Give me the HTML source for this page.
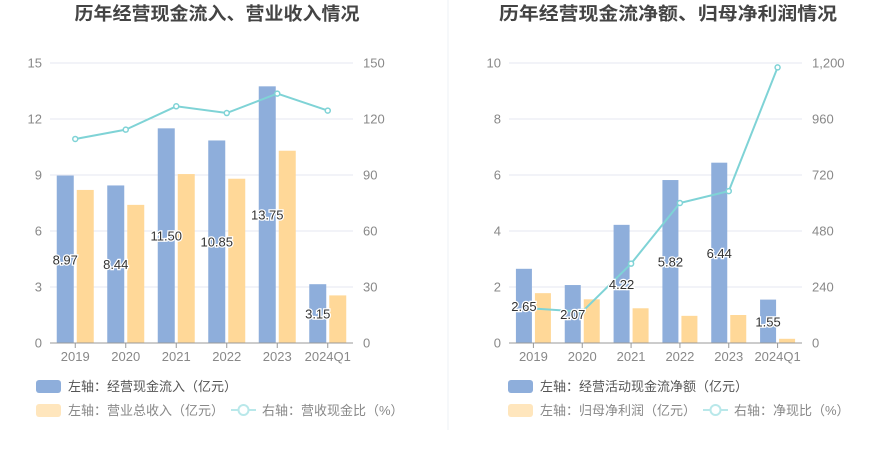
<!DOCTYPE html>
<html><head><meta charset="utf-8"><style>
html,body{margin:0;padding:0;background:#fff;}
svg{display:block;font-family:"Liberation Sans","Noto Sans CJK SC",sans-serif;}
</style></head><body>
<svg id="c" width="893" height="458" viewBox="0 0 893 458">
<line x1="448" y1="0" x2="448" y2="430" stroke="#eef0f4" stroke-width="1"/>
</svg>
<script>
const cats=["2019","2020","2021","2022","2023","2024Q1"];
const leftBlue=[8.97,8.44,11.50,10.85,13.75,3.15];
const leftOrange=[8.2,7.4,9.05,8.8,10.3,2.55];
const leftLine=[109.3,114.3,126.8,123.2,133.6,124.5];
const leftTicksL=[0,3,6,9,12,15];
const leftTicksR=["0","30","60","90","120","150"];
const rightBlue=[2.65,2.07,4.22,5.82,6.44,1.55];
const rightOrange=[1.78,1.56,1.24,0.97,1.0,0.15];
const rightLine=[148,134,340,600,651,1181];
const rightTicksL=[0,2,4,6,8,10];
const rightTicksR=["0","240","480","720","960","1,200"];
const svg=document.getElementById('c');
const NS="http://www.w3.org/2000/svg";
function mk(tag,attrs,parent){const e=document.createElementNS(NS,tag);for(const k in attrs)e.setAttribute(k,attrs[k]);(parent||svg).appendChild(e);return e;}
function chart(o){
  const g=mk('g',{});
  
  
  const y0=343,top=63,x0=o.x0,x1=o.x1;
  const cw=(x1-x0)/cats.length;
  const yL=v=>y0-(v/o.maxL)*(y0-top);
  const yR=v=>y0-(v/o.maxR)*(y0-top);
  const cx=i=>x0+cw*(i+0.5);
  const t=mk('text',{x:o.tx,y:20,'font-size':18,'font-weight':'bold',fill:'#444','text-anchor':'middle',textLength:o.tl,lengthAdjust:'spacingAndGlyphs'},g);
  t.textContent=o.title;
  
  
  o.ticksL.forEach((v,i)=>{
    const y=yL(v);
    if(v>0){const l=mk('line',{x1:x0,x2:x1,y1:y,y2:y,stroke:'#e4e7f0'},g);
      
      }
    const a=mk('text',{x:x0-8,y:y+4.5,'font-size':13,fill:'#888','text-anchor':'end'},g);a.textContent=v;
    
    
    const b=mk('text',{x:x1+10,y:y+4.5,'font-size':13,fill:'#888'},g);b.textContent=o.ticksR[i];
    
    
  });
  cats.forEach((c,i)=>{
    const bw=o.bw;
    const bx=cx(i)-bw-1.5, ox=cx(i)+1.5;
    const b=mk('rect',{x:bx,y:yL(o.blue[i]),width:bw,height:y0-yL(o.blue[i]),fill:'#8eaedb'},g);
    
    
    const r=mk('rect',{x:ox,y:yL(o.orange[i]),width:bw,height:y0-yL(o.orange[i]),fill:'#ffd898'},g);
    
    
    const tk=mk('line',{x1:cx(i),x2:cx(i),y1:y0,y2:y0+5,stroke:'#999'},g);
    
    
    const xl=mk('text',{x:cx(i),y:y0+18,'font-size':13,fill:'#888','text-anchor':'middle'},g);xl.textContent=c;
    
    
  });
  const ax=mk('line',{x1:x0,x2:x1,y1:y0,y2:y0,stroke:'#999'},g);
  
  
  const pts=o.line.map((v,i)=>cx(i)+','+yR(v)).join(' ');
  const pl=mk('polyline',{points:pts,fill:'none',stroke:'#7fd3d6','stroke-width':2},g);
  
  
  o.line.forEach((v,i)=>{
    const p=mk('circle',{cx:cx(i),cy:yR(v),r:2.5,fill:'#fff',stroke:'#7fd3d6','stroke-width':1.5},g);
    
    
  });
  cats.forEach((c,i)=>{
    const bx=cx(i)-o.bw/2-1.5;
    const y=(yL(o.blue[i])+y0)/2+5;
    const l=mk('text',{x:bx,y:y,'font-size':13,fill:'#333','text-anchor':'middle',stroke:'#fff','stroke-width':2.5,'paint-order':'stroke'},g);
    l.textContent=o.blue[i].toFixed(2);
    
    
  });
  const lx=o.lx;
  const r1=mk('rect',{x:lx,y:380,width:25,height:13,rx:3,fill:'#8eaedb'},g);
  
  
  const t1=mk('text',{x:lx+32,y:391,'font-size':13,fill:'#555'},g);t1.textContent=o.leg1;
  
  
  const r2=mk('rect',{x:lx,y:404,width:25,height:13,rx:3,fill:'#ffe6bd'},g);
  
  
  const t2=mk('text',{x:lx+32,y:415,'font-size':13,fill:'#888'},g);t2.textContent=o.leg2;
  
  
  const ll=mk('line',{x1:o.lx2,x2:o.lx2+25,y1:410,y2:410,stroke:'#b9e8ea','stroke-width':2},g);
  
  
  const lc=mk('circle',{cx:o.lx2+12.5,cy:410,r:5,fill:'#fff',stroke:'#b9e8ea','stroke-width':2},g);
  
  
  const t3=mk('text',{x:o.lx2+31,y:415,'font-size':13,fill:'#888'},g);t3.textContent=o.leg3;
  
  
}
chart({name:'left-chart',x0:50,x1:353,maxL:15,maxR:150,bw:17,blue:leftBlue,orange:leftOrange,line:leftLine,ticksL:leftTicksL,ticksR:leftTicksR,
 title:'历年经营现金流入、营业收入情况',tx:217,tl:285,lx:36,lx2:231,
 leg1:'左轴：经营现金流入（亿元）',leg2:'左轴：营业总收入（亿元）',leg3:'右轴：营收现金比（%）'});
chart({name:'right-chart',x0:509,x1:802,maxL:10,maxR:1200,bw:16,blue:rightBlue,orange:rightOrange,line:rightLine,ticksL:rightTicksL,ticksR:rightTicksR,
 title:'历年经营现金流净额、归母净利润情况',tx:668,tl:338,lx:508,lx2:703,
 leg1:'左轴：经营活动现金流净额（亿元）',leg2:'左轴：归母净利润（亿元）',leg3:'右轴：净现比（%）'});
</script>
</body></html>
